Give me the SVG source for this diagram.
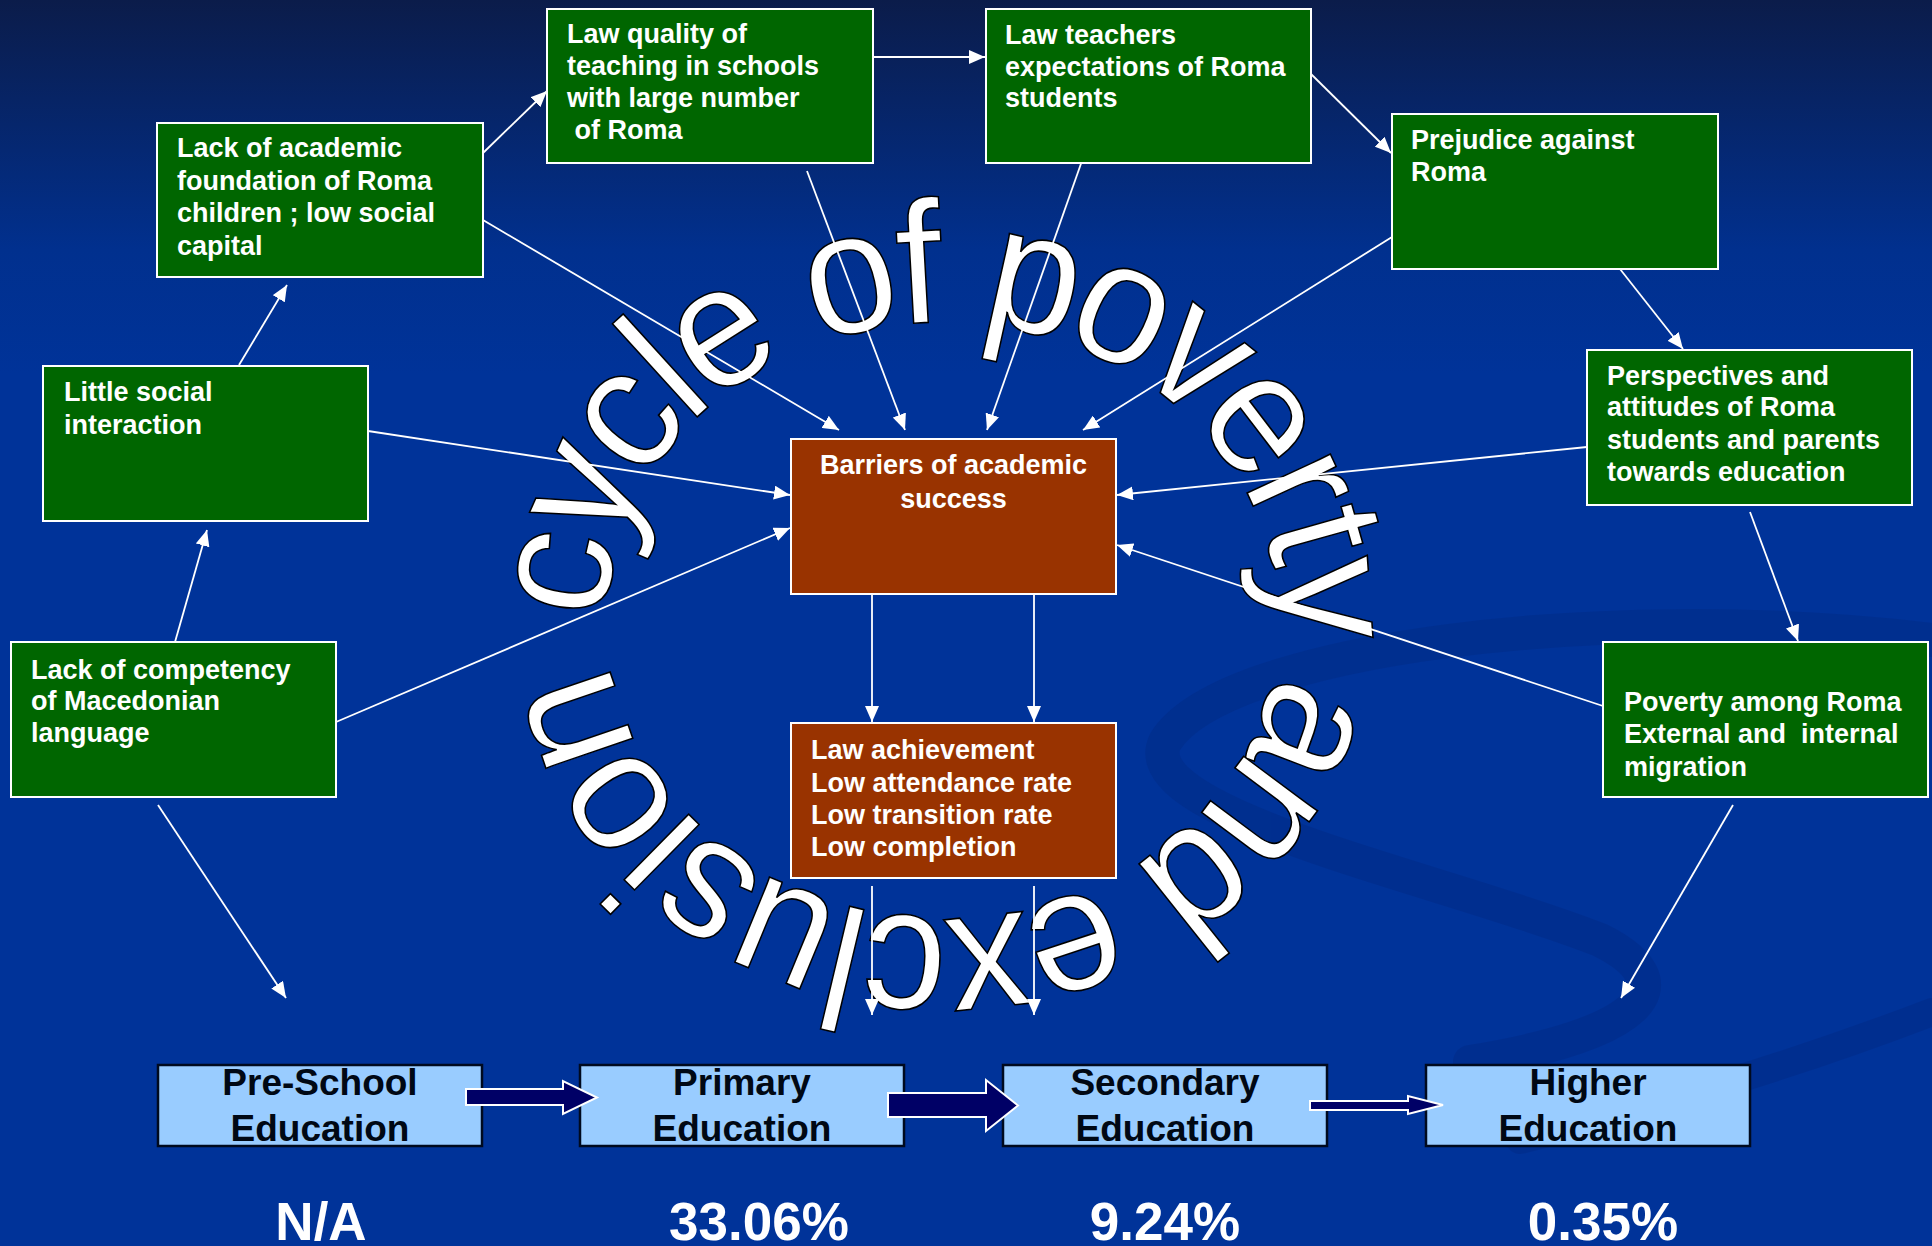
<svg xmlns="http://www.w3.org/2000/svg" width="1932" height="1246" viewBox="0 0 1932 1246">
<defs>
  <linearGradient id="bg" x1="0" y1="0" x2="0" y2="1">
    <stop offset="0" stop-color="#0b1c4a"/>
    <stop offset="0.2" stop-color="#01308e"/>
    <stop offset="0.3" stop-color="#003399"/>
    <stop offset="1" stop-color="#003399"/>
  </linearGradient>
  <marker id="ah" viewBox="0 0 16 14" markerWidth="16" markerHeight="14" refX="16" refY="7" orient="auto" markerUnits="userSpaceOnUse">
    <path d="M0,0 L16,7 L0,14 z" fill="#ffffff"/>
  </marker>
  <path id="ring" d="M561.06,613.98 A382,345 0 0 1 1324.94,626.02 A382,345 0 0 1 561.06,613.98 A382,345 0 0 1 943,275"/>
  <style>
    .g{fill:#006600;stroke:#ffffff;stroke-width:2}
    .b{fill:#993300;stroke:#ffffff;stroke-width:2}
    .e{fill:#99ccff;stroke:#000a1e;stroke-width:2.5}
    .t{font-family:"Liberation Sans",Arial,sans-serif;font-weight:bold;font-size:27px;fill:#ffffff;white-space:pre}
    .et{font-family:"Liberation Sans",Arial,sans-serif;font-weight:bold;font-size:37px;fill:#000814;text-anchor:middle}
    .pc{font-family:"Liberation Sans",Arial,sans-serif;font-weight:bold;font-size:53px;fill:#ffffff;text-anchor:middle}
    .c{stroke:#ffffff;stroke-width:1.8;fill:none;marker-end:url(#ah)}
    .ba{fill:#000066;stroke:#ffffff;stroke-width:2}
    .arc{font-family:"Liberation Sans",Arial,sans-serif;font-size:174px;fill:#ffffff;stroke:#000000;stroke-width:1.6}
  </style>
</defs>

<rect x="0" y="0" width="1932" height="1246" fill="url(#bg)"/>
<g id="swirl" fill="none" stroke="#002b86" stroke-linecap="round" opacity="0.5">
  <path d="M1932,640 C1600,600 1220,650 1165,742 C1130,815 1450,880 1600,940 C1690,985 1640,1035 1470,1062" stroke-width="34"/>
  <path d="M1932,1012 C1820,1055 1680,1100 1520,1140" stroke-width="28"/>
</g>

<g id="title-arc">
  <text class="arc" dominant-baseline="middle"><textPath href="#ring" textLength="2218" lengthAdjust="spacingAndGlyphs">cycle of poverty and exclusion</textPath></text>
</g>

<g id="connectors">
  <line class="c" x1="483" y1="153" x2="547" y2="91"/>
  <line class="c" x1="872" y1="57" x2="985" y2="57"/>
  <line class="c" x1="1311" y1="74" x2="1391" y2="153"/>
  <line class="c" x1="1620" y1="269" x2="1683" y2="349"/>
  <line class="c" x1="1750" y1="512" x2="1798" y2="641"/>
  <line class="c" x1="1733" y1="805" x2="1621" y2="998"/>
  <line class="c" x1="158" y1="805" x2="286" y2="998"/>
  <line class="c" x1="175" y1="642" x2="207" y2="530"/>
  <line class="c" x1="239" y1="365" x2="287" y2="285"/>
  <line class="c" x1="483" y1="220" x2="839" y2="430"/>
  <line class="c" x1="807" y1="171" x2="905" y2="430"/>
  <line class="c" x1="1083" y1="158" x2="987" y2="430"/>
  <line class="c" x1="1392" y1="237" x2="1083" y2="430"/>
  <line class="c" x1="1587" y1="447" x2="1117" y2="495"/>
  <line class="c" x1="1603" y1="706" x2="1117" y2="545"/>
  <line class="c" x1="368" y1="431" x2="790" y2="495"/>
  <line class="c" x1="336" y1="722" x2="790" y2="528"/>
  <line class="c" x1="872" y1="594" x2="872" y2="722"/>
  <line class="c" x1="1034" y1="594" x2="1034" y2="722"/>
  <line class="c" x1="872" y1="886" x2="872" y2="1015"/>
  <line class="c" x1="1034" y1="886" x2="1034" y2="1015"/>
</g>

<g id="n-lack-academic">
  <rect class="g" x="157" y="123" width="326" height="154"/>
  <text class="t" x="177" y="157">Lack of academic</text>
  <text class="t" x="177" y="190">foundation of Roma</text>
  <text class="t" x="177" y="222">children ; low social</text>
  <text class="t" x="177" y="255">capital</text>
</g>
<g id="n-law-quality">
  <rect class="g" x="547" y="9" width="326" height="154"/>
  <text class="t" x="567" y="43">Law quality of</text>
  <text class="t" x="567" y="75">teaching in schools</text>
  <text class="t" x="567" y="107">with large number</text>
  <text class="t" x="567" y="139"> of Roma</text>
</g>
<g id="n-law-teachers">
  <rect class="g" x="986" y="9" width="325" height="154"/>
  <text class="t" x="1005" y="44">Law teachers</text>
  <text class="t" x="1005" y="76">expectations of Roma</text>
  <text class="t" x="1005" y="107">students</text>
</g>
<g id="n-prejudice">
  <rect class="g" x="1392" y="114" width="326" height="155"/>
  <text class="t" x="1411" y="149">Prejudice against</text>
  <text class="t" x="1411" y="181">Roma</text>
</g>
<g id="n-perspectives">
  <rect class="g" x="1587" y="350" width="325" height="155"/>
  <text class="t" x="1607" y="385">Perspectives and</text>
  <text class="t" x="1607" y="416">attitudes of Roma</text>
  <text class="t" x="1607" y="449">students and parents</text>
  <text class="t" x="1607" y="481">towards education</text>
</g>
<g id="n-poverty">
  <rect class="g" x="1603" y="642" width="325" height="155"/>
  <text class="t" x="1624" y="711">Poverty among Roma</text>
  <text class="t" x="1624" y="743">External and  internal</text>
  <text class="t" x="1624" y="776">migration</text>
</g>
<g id="n-lack-competency">
  <rect class="g" x="11" y="642" width="325" height="155"/>
  <text class="t" x="31" y="679">Lack of competency</text>
  <text class="t" x="31" y="710">of Macedonian</text>
  <text class="t" x="31" y="742">language</text>
</g>
<g id="n-little-social">
  <rect class="g" x="43" y="366" width="325" height="155"/>
  <text class="t" x="64" y="401">Little social</text>
  <text class="t" x="64" y="434">interaction</text>
</g>
<g id="n-barriers">
  <rect class="b" x="791" y="439" width="325" height="155"/>
  <text class="t" x="953.5" y="474" text-anchor="middle">Barriers of academic</text>
  <text class="t" x="953.5" y="508" text-anchor="middle">success</text>
</g>
<g id="n-outcomes">
  <rect class="b" x="791" y="723" width="325" height="155"/>
  <text class="t" x="811" y="759">Law achievement</text>
  <text class="t" x="811" y="792">Low attendance rate</text>
  <text class="t" x="811" y="824">Low transition rate</text>
  <text class="t" x="811" y="856">Low completion</text>
</g>

<g id="n-preschool">
  <rect class="e" x="158" y="1065" width="324" height="81"/>
  <text class="et" x="320" y="1095">Pre-School</text>
  <text class="et" x="320" y="1141">Education</text>
</g>
<g id="n-primary">
  <rect class="e" x="580" y="1065" width="324" height="81"/>
  <text class="et" x="742" y="1095">Primary</text>
  <text class="et" x="742" y="1141">Education</text>
</g>
<g id="n-secondary">
  <rect class="e" x="1003" y="1065" width="324" height="81"/>
  <text class="et" x="1165" y="1095">Secondary</text>
  <text class="et" x="1165" y="1141">Education</text>
</g>
<g id="n-higher">
  <rect class="e" x="1426" y="1065" width="324" height="81"/>
  <text class="et" x="1588" y="1095">Higher</text>
  <text class="et" x="1588" y="1141">Education</text>
</g>

<g id="block-arrows">
  <path class="ba" d="M466,1089 L563,1089 L563,1081 L597,1097.5 L563,1114 L563,1105 L466,1105 z"/>
  <path class="ba" d="M888,1093 L986,1093 L986,1080 L1018,1105.5 L986,1131 L986,1117 L888,1117 z"/>
  <path class="ba" d="M1310,1101 L1408,1101 L1408,1096 L1443,1105 L1408,1114 L1408,1110 L1310,1110 z"/>
</g>

<g id="rates">
  <text class="pc" x="321" y="1240">N/A</text>
  <text class="pc" x="759" y="1240">33.06%</text>
  <text class="pc" x="1165" y="1240">9.24%</text>
  <text class="pc" x="1603" y="1240">0.35%</text>
</g>
</svg>
